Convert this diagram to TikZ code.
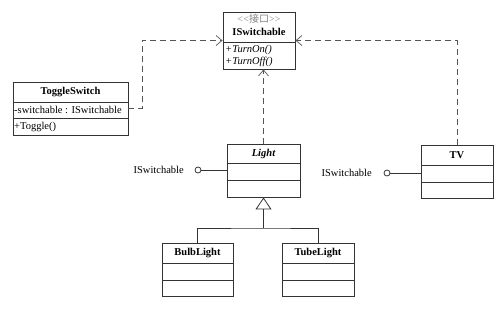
\documentclass[tikz,border=0pt]{standalone}
\usepackage{fontspec}
\setmainfont{Liberation Serif}
\newfontfamily\cjk{Noto Sans CJK SC}
\usetikzlibrary{arrows.meta}
\definecolor{linec}{HTML}{333333}
\definecolor{dashc}{HTML}{555555}
\begin{document}
\begin{tikzpicture}[x=1pt,y=-1pt,
  every node/.style={font=\fontsize{10.5}{12}\selectfont, text=black, inner sep=0pt},
  cls/.style={draw=linec, line width=0.9pt, rectangle},
  sep/.style={draw=linec, line width=0.9pt},
  dep/.style={draw=dashc, line width=1pt, dash pattern=on 6pt off 4pt, -{Straight Barb[length=6pt,width=10pt,line width=0.7pt]}},
  lolly/.style={circle, draw=linec, line width=0.8pt, minimum size=6pt, fill=white},
  solidl/.style={draw=linec, line width=0.8pt}]
\useasboundingbox (0,0) rectangle (504,309);
% ISwitchable
\node[cls, minimum width=72pt, minimum height=57pt] (isw) at (259,40.5) {};
\draw[sep] (223,42) -- (295,42);
\node[text=gray, font=\fontsize{10}{11}\selectfont] (iswst) at (259,19) {\textless\kern0.3pt\textless{\cjk 接口}\textgreater\kern0.3pt\textgreater};
\node[font=\fontsize{10.5}{12}\selectfont\bfseries] (iswn) at (259,32) {ISwitchable};
\node[anchor=west, font=\fontsize{10.5}{12}\selectfont\itshape] (on) at (225,49.5) {+TurnOn()};
\node[anchor=west, font=\fontsize{10.5}{12}\selectfont\itshape] (off) at (225,62) {+TurnOff()};
% ToggleSwitch
\node[cls, minimum width=115pt, minimum height=53pt] (ts) at (70.5,108.5) {};
\draw[sep] (13,102) -- (128,102);
\draw[sep] (13,118) -- (128,118);
\node[font=\fontsize{10.5}{12}\selectfont\bfseries] (tsn) at (70.5,92) {ToggleSwitch};
\node[anchor=west] (tsa) at (14,110) {-switchable : ISwitchable};
\node[anchor=west] (tso) at (14,126.5) {+Toggle()};
% Light
\node[cls, minimum width=73pt, minimum height=53pt] (light) at (263.5,170.5) {};
\draw[sep] (227,163) -- (300,163);
\draw[sep] (227,180) -- (300,180);
\node[font=\fontsize{10.5}{12}\selectfont\bfseries\itshape] (lightn) at (263.5,154) {Light};
% TV
\node[cls, minimum width=72pt, minimum height=53pt] (tv) at (457,171.5) {};
\draw[sep] (421,165) -- (493,165);
\draw[sep] (421,182) -- (493,182);
\node[font=\fontsize{10.5}{12}\selectfont\bfseries] (tvn) at (457,155.5) {TV};
% BulbLight
\node[cls, minimum width=71pt, minimum height=53pt] (bulb) at (197.5,269.5) {};
\draw[sep] (162,263) -- (233,263);
\draw[sep] (162,280) -- (233,280);
\node[font=\fontsize{10.5}{12}\selectfont\bfseries] (bulbn) at (197.5,253) {BulbLight};
% TubeLight
\node[cls, minimum width=72pt, minimum height=53pt] (tube) at (318,269.5) {};
\draw[sep] (282,263) -- (354,263);
\draw[sep] (282,280) -- (354,280);
\node[font=\fontsize{10.5}{12}\selectfont\bfseries] (tuben) at (318,253) {TubeLight};
% lollipops
\node[lolly] (lp1) at (198,170) {};
\draw[solidl] (lp1) -- (lp1 -| light.west);
\node[anchor=east] (lp1l) at (184,170) {ISwitchable};
\node[lolly] (lp2) at (387,173) {};
\draw[solidl] (lp2) -- (lp2 -| tv.west);
\node[anchor=east] (lp2l) at (372,173) {ISwitchable};
% dependencies
\coordinate (tsc) at (142,108.5);
\draw[dep] (ts.east) -- (tsc) |- (isw.west);
\draw[dep] (tv.north) |- (isw.east);
\draw[dep] (light.north) -- (light.north |- isw.south);
% generalization
\coordinate (gj) at (263.5,228);
\draw[solidl] (bulb.north) |- (gj) -| (tube.north);
\draw[solidl, -{Triangle[open, length=12pt, width=16pt, line width=0.8pt]}] (gj) -- (light.south);
\end{tikzpicture}
\end{document}
